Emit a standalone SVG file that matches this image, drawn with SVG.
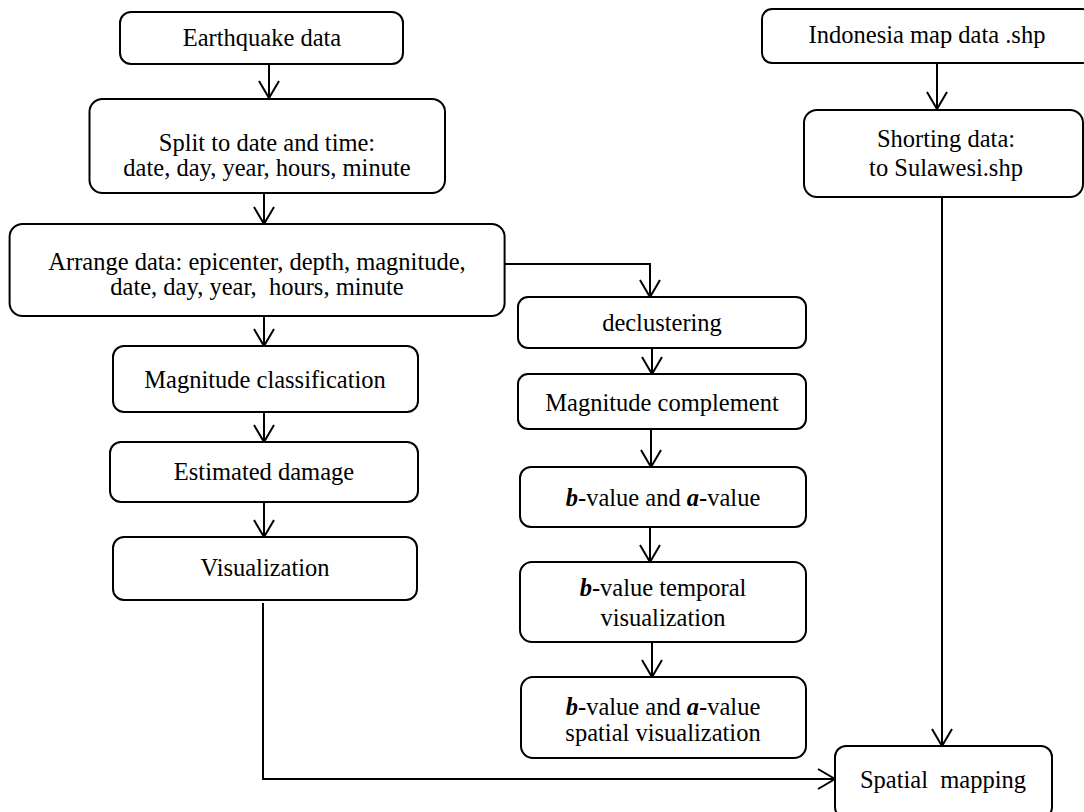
<svg xmlns="http://www.w3.org/2000/svg" width="1084" height="812" viewBox="0 0 1084 812">
<style>
.box{fill:#fff;stroke:#000;stroke-width:2}
.t{font-family:"Liberation Serif","Times New Roman",serif;font-size:24.5px;fill:#000;text-anchor:middle;white-space:pre}
.c{fill:none;stroke:#000;stroke-width:2}
.bi{font-weight:bold;font-style:italic}
</style>
<defs>
<marker id="arr" markerWidth="20" markerHeight="24" refX="18" refY="11" orient="auto" markerUnits="userSpaceOnUse" viewBox="0 0 20 22">
<path d="M1,1 L18,11 L1,21" fill="none" stroke="#000" stroke-width="2"/>
</marker>
</defs>
<rect width="1084" height="812" fill="#fff"/>
<g id="connectors">
<line class="c" x1="269" y1="64" x2="269" y2="98" marker-end="url(#arr)"/>
<line class="c" x1="264" y1="193" x2="264" y2="224" marker-end="url(#arr)"/>
<polyline class="c" points="504.5,264 650,264 650,297" marker-end="url(#arr)"/>
<line class="c" x1="264" y1="316" x2="264" y2="346" marker-end="url(#arr)"/>
<line class="c" x1="264" y1="412" x2="264" y2="442" marker-end="url(#arr)"/>
<line class="c" x1="264" y1="502" x2="264" y2="537" marker-end="url(#arr)"/>
<polyline class="c" points="263,603 263,779 835,779" marker-end="url(#arr)"/>
<line class="c" x1="652" y1="348" x2="652" y2="374" marker-end="url(#arr)"/>
<line class="c" x1="651" y1="429" x2="651" y2="467" marker-end="url(#arr)"/>
<line class="c" x1="650" y1="527" x2="650" y2="562" marker-end="url(#arr)"/>
<line class="c" x1="652" y1="642" x2="652" y2="677" marker-end="url(#arr)"/>
<line class="c" x1="937" y1="63" x2="937" y2="109" marker-end="url(#arr)"/>
<line class="c" x1="942" y1="197" x2="942" y2="746" marker-end="url(#arr)"/>
</g>
<g id="n-earthquake"><rect class="box" x="120" y="12" width="283" height="52" rx="11"/><text class="t" x="262" y="46">Earthquake data</text></g>
<g id="n-split"><rect class="box" x="89.5" y="99" width="355.5" height="94" rx="13"/><text class="t" x="267" y="151">Split to date and time:</text><text class="t" x="267" y="176">date, day, year, hours, minute</text></g>
<g id="n-arrange"><rect class="box" x="9.6" y="224" width="495" height="92" rx="13"/><text class="t" x="257" y="270">Arrange data: epicenter, depth, magnitude,</text><text class="t" x="257" y="295">date, day, year,  hours, minute</text></g>
<g id="n-magclass"><rect class="box" x="113" y="346" width="305" height="66" rx="11"/><text class="t" x="265" y="388">Magnitude classification</text></g>
<g id="n-damage"><rect class="box" x="110" y="442" width="308" height="60" rx="11"/><text class="t" x="264" y="480">Estimated damage</text></g>
<g id="n-vis"><rect class="box" x="113" y="537" width="304" height="63" rx="11"/><text class="t" x="265" y="576">Visualization</text></g>
<g id="n-decl"><rect class="box" x="518" y="297" width="288" height="51" rx="10"/><text class="t" x="662" y="331">declustering</text></g>
<g id="n-magcomp"><rect class="box" x="518" y="374" width="288" height="55" rx="10"/><text class="t" x="662" y="411">Magnitude complement</text></g>
<g id="n-ba"><rect class="box" x="520" y="467" width="286" height="60" rx="11"/><text class="t" x="663" y="506"><tspan class="bi">b</tspan>-value and <tspan class="bi">a</tspan>-value</text></g>
<g id="n-temporal"><rect class="box" x="520" y="562" width="286" height="80" rx="12"/><text class="t" x="663" y="596"><tspan class="bi">b</tspan>-value temporal</text><text class="t" x="663" y="626">visualization</text></g>
<g id="n-spatialvis"><rect class="box" x="521" y="677" width="285" height="81" rx="12"/><text class="t" x="663" y="715"><tspan class="bi">b</tspan>-value and <tspan class="bi">a</tspan>-value</text><text class="t" x="663" y="741">spatial visualization</text></g>
<g id="n-indonesia"><rect class="box" x="762" y="9" width="330" height="54" rx="10"/><text class="t" x="927" y="43">Indonesia map data .shp</text></g>
<g id="n-shorting"><rect class="box" x="804" y="110" width="279" height="87" rx="13"/><text class="t" x="946" y="147">Shorting data:</text><text class="t" x="946" y="176">to Sulawesi.shp</text></g>
<g id="n-spatial"><rect class="box" x="835" y="746" width="217" height="72" rx="11"/><text class="t" x="943" y="788">Spatial  mapping</text></g>
</svg>
